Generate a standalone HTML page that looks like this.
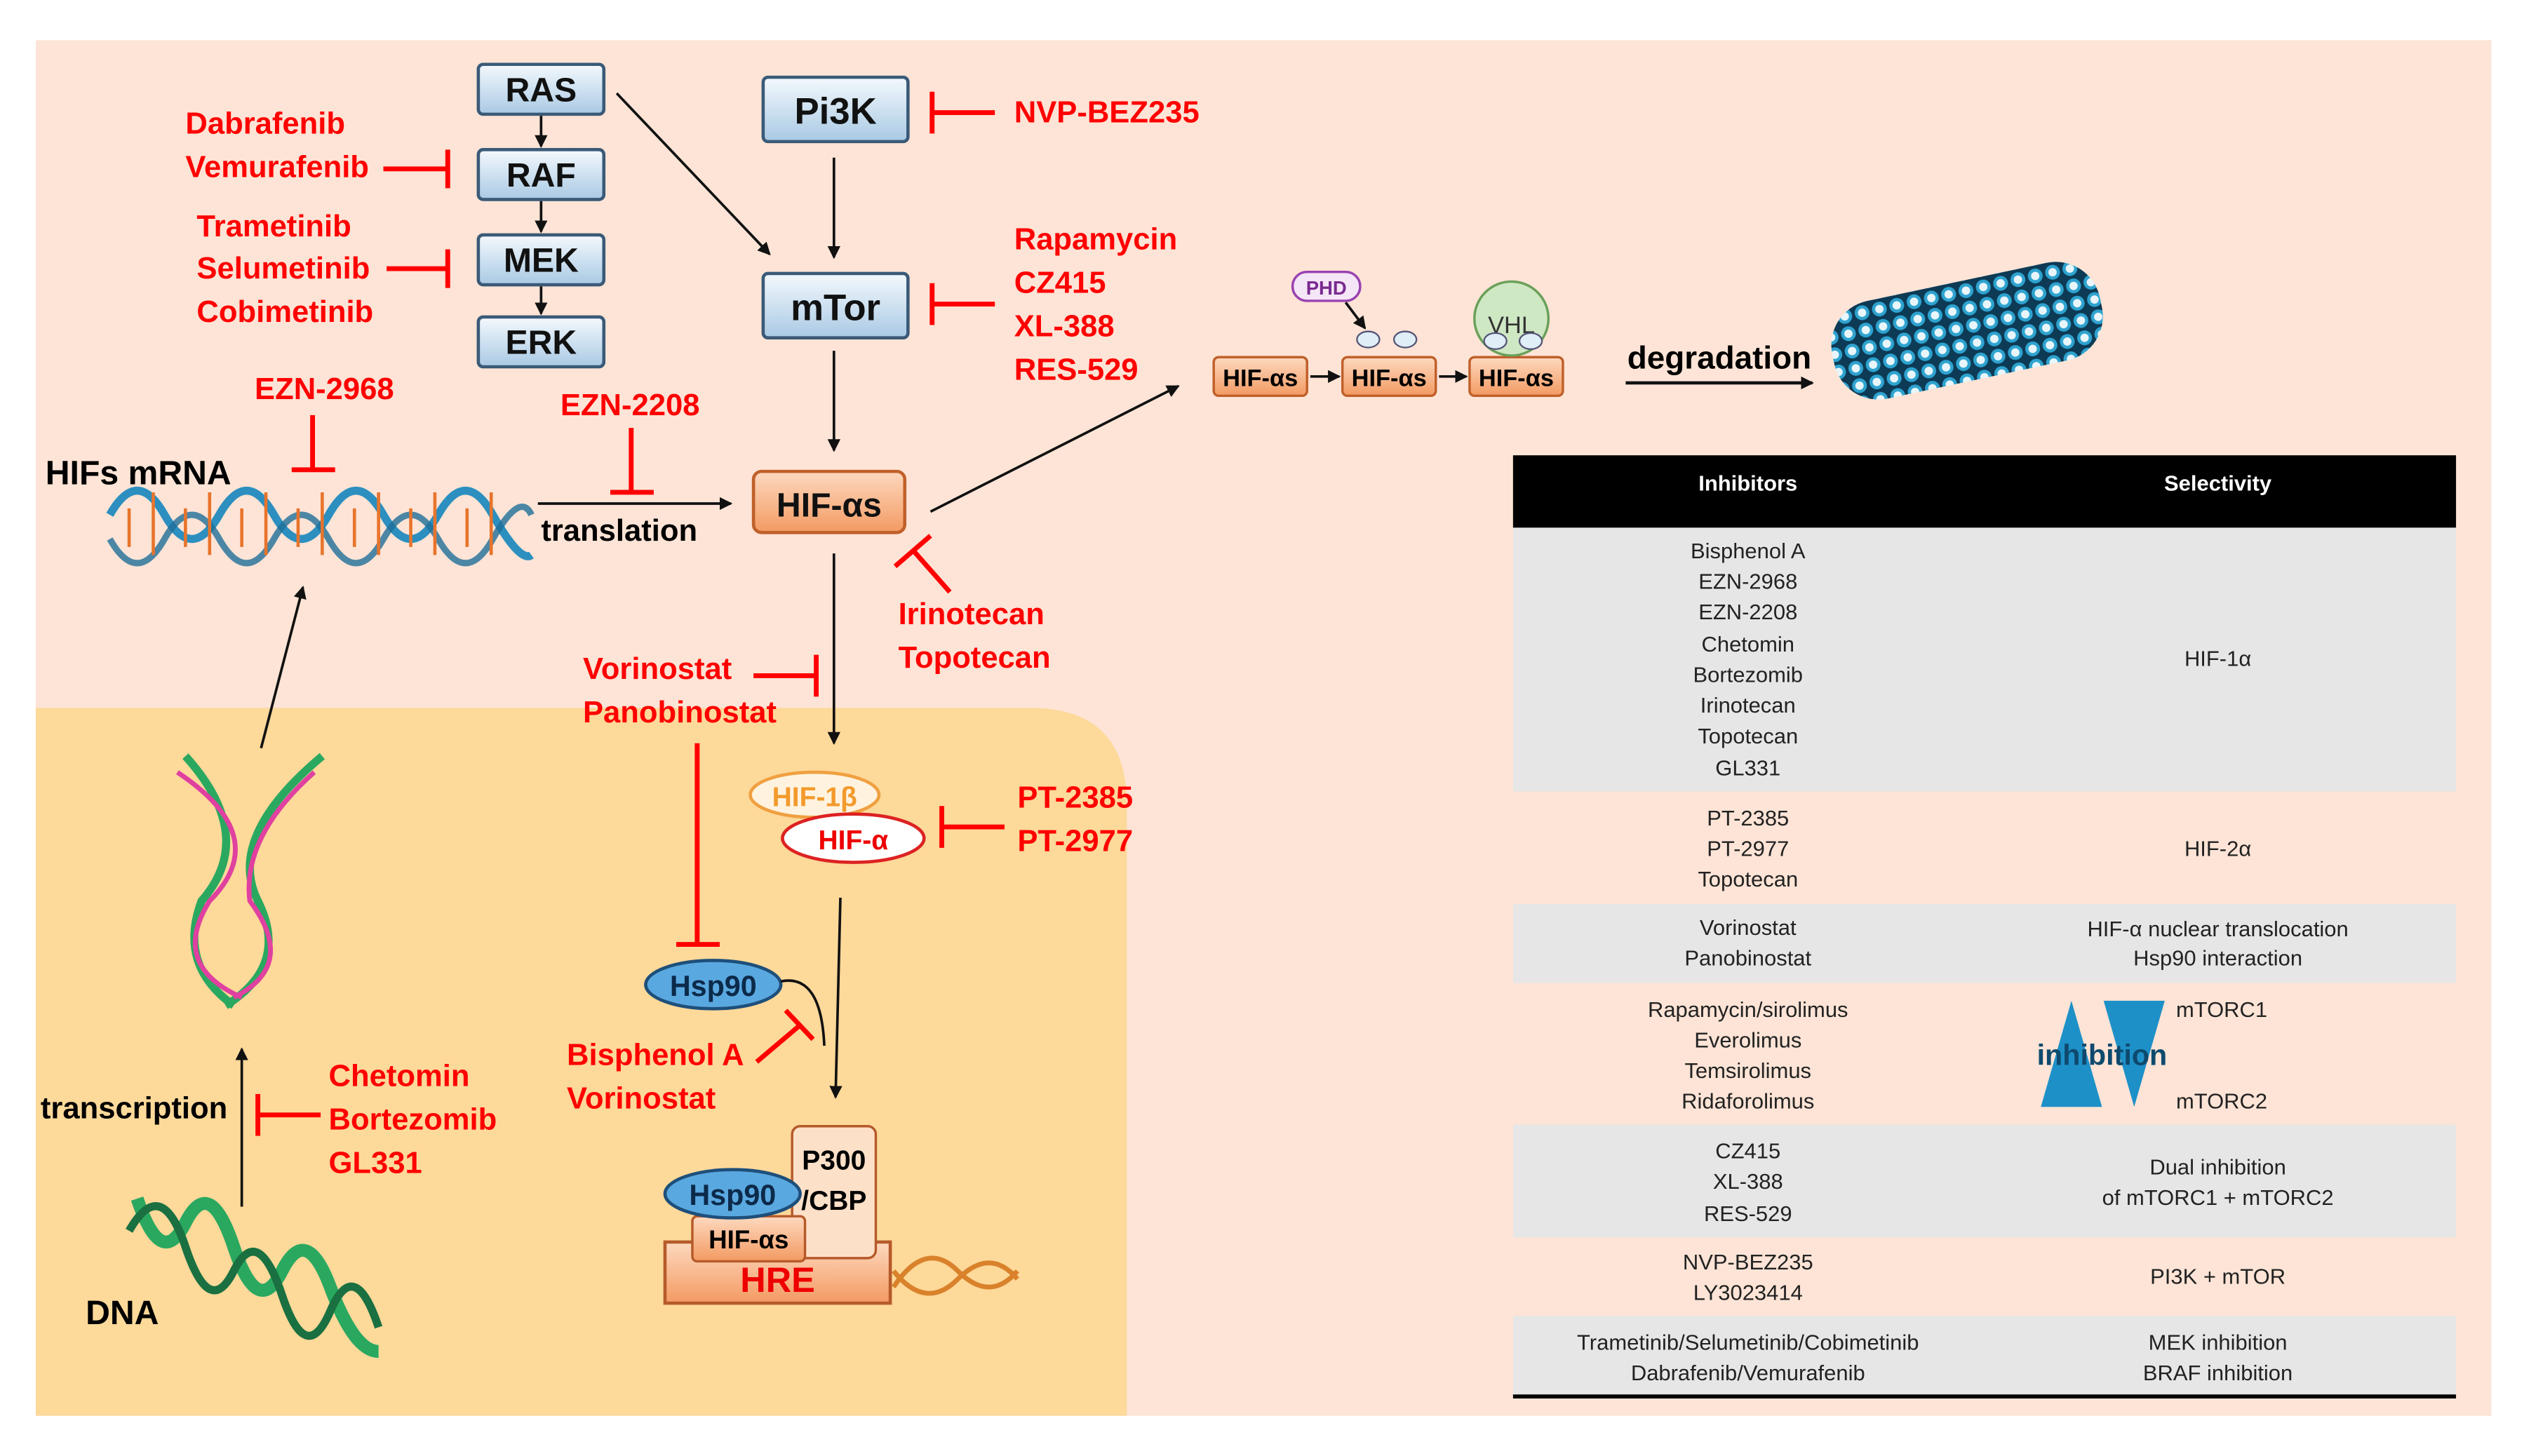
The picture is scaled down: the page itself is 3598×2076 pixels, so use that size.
<!DOCTYPE html>
<html><head><meta charset="utf-8"><style>
html,body{margin:0;padding:0;background:#fff;}
svg{display:block;}
text{font-family:"Liberation Sans",sans-serif;}
.r{fill:#f00;font-weight:bold;font-size:19px;}
.t{font-size:13.5px;fill:#222;text-anchor:middle;}
.bx{fill:url(#bg);stroke:#3a5a78;stroke-width:2;}
.bl{font-weight:bold;font-size:21px;fill:#111;text-anchor:middle;}
.ln{stroke:#111;stroke-width:1.6;fill:none;}
.inh{stroke:#f00;stroke-width:3;fill:none;}
</style></head><body>
<svg width="3598" height="2076" viewBox="0 0 1568 905" xmlns="http://www.w3.org/2000/svg">
<defs>
<linearGradient id="bg" x1="0" y1="0" x2="0" y2="1"><stop offset="0" stop-color="#f4f9fd"/><stop offset="1" stop-color="#a9c9e4"/></linearGradient>
<linearGradient id="og" x1="0" y1="0" x2="0" y2="1"><stop offset="0" stop-color="#fdd9bf"/><stop offset="1" stop-color="#f39a62"/></linearGradient>
<marker id="a" markerWidth="8" markerHeight="8" refX="7" refY="4" orient="auto" markerUnits="userSpaceOnUse"><path d="M0,0 L8,4 L0,8 z" fill="#111"/></marker>
<pattern id="bead" width="11" height="11" patternUnits="userSpaceOnUse"><rect width="11" height="11" fill="#0d3a55"/><circle cx="5.5" cy="5.5" r="4.6" fill="#2ea3cf"/><circle cx="5.5" cy="5.5" r="2.6" fill="#e8f6fb"/></pattern>
</defs>
<rect x="22" y="25" width="1526" height="855" fill="#fde4d6"/>
<path d="M22,440 H640 Q700,440 700,500 V880 H22 Z" fill="#fdd99a"/>

<!-- MAPK boxes -->
<rect class="bx" x="297" y="40" width="78" height="31" rx="3"/><text class="bl" x="336" y="63">RAS</text>
<rect class="bx" x="297" y="93" width="78" height="31" rx="3"/><text class="bl" x="336" y="116">RAF</text>
<rect class="bx" x="297" y="146" width="78" height="31" rx="3"/><text class="bl" x="336" y="169">MEK</text>
<rect class="bx" x="297" y="197" width="78" height="31" rx="3"/><text class="bl" x="336" y="220">ERK</text>
<line class="ln" x1="336" y1="72" x2="336" y2="91" marker-end="url(#a)"/>
<line class="ln" x1="336" y1="125" x2="336" y2="144" marker-end="url(#a)"/>
<line class="ln" x1="336" y1="178" x2="336" y2="195" marker-end="url(#a)"/>
<line class="ln" x1="383" y1="58" x2="478" y2="158" marker-end="url(#a)"/>

<rect class="bx" x="474" y="48" width="90" height="40" rx="3"/><text class="bl" x="519" y="77" style="font-size:23px">Pi3K</text>
<rect class="bx" x="474" y="170" width="90" height="40" rx="3"/><text class="bl" x="519" y="199" style="font-size:23px">mTor</text>
<line class="ln" x1="518" y1="98" x2="518" y2="160" marker-end="url(#a)"/>
<line class="ln" x1="518" y1="218" x2="518" y2="280" marker-end="url(#a)"/>

<rect x="468" y="293" width="94" height="38" rx="5" fill="url(#og)" stroke="#c0602a" stroke-width="2"/>
<text class="bl" x="515" y="321" style="font-size:21px">HIF-αs</text>

<!-- red labels -->
<text class="r" x="115" y="83">Dabrafenib</text><text class="r" x="115" y="110">Vemurafenib</text>
<path class="inh" d="M238,105 H278 M278,93 V117"/>
<text class="r" x="122" y="147">Trametinib</text><text class="r" x="122" y="173">Selumetinib</text><text class="r" x="122" y="200">Cobimetinib</text>
<path class="inh" d="M240,167 H278 M278,155 V179"/>
<text class="r" x="630" y="76">NVP-BEZ235</text>
<path class="inh" d="M579,70 H618 M579,57 V83"/>
<text class="r" x="630" y="155">Rapamycin</text><text class="r" x="630" y="182">CZ415</text><text class="r" x="630" y="209">XL-388</text><text class="r" x="630" y="236">RES-529</text>
<path class="inh" d="M579,189 H618 M579,176 V202"/>
<text class="r" x="158" y="248">EZN-2968</text>
<path class="inh" d="M194,258 V292 M181,292 H208"/>
<text class="r" x="348" y="258">EZN-2208</text>
<path class="inh" d="M392,266 V306 M379,306 H406"/>
<text x="28" y="301" style="font-weight:bold;font-size:21px">HIFs mRNA</text>
<text x="336" y="336" style="font-weight:bold;font-size:19px">translation</text>
<line class="ln" x1="334" y1="313" x2="454" y2="313" marker-end="url(#a)"/>
<!-- mRNA -->
<path d="M68,320 Q85,290 102,320 T136,320 T170,320 T204,320 T238,320 T272,320 T306,320 T330,345" stroke="#2c8fbf" stroke-width="5" fill="none"/>
<path d="M68,335 Q85,365 102,335 T136,335 T170,335 T204,335 T238,335 T272,335 T306,335 T330,320" stroke="#1f6e98" stroke-width="4" fill="none" opacity=".8"/>
<g stroke="#e8742b" stroke-width="2"><path d="M80,316V340 M95,306V345 M115,316V340 M130,306V345 M150,316V340 M165,306V345 M185,316V340 M200,306V345 M220,316V340 M235,306V345 M255,316V340 M270,306V345 M290,316V340 M305,306V345"/></g>

<line class="ln" x1="578" y1="318" x2="732" y2="240" marker-end="url(#a)"/>
<text class="r" x="558" y="388">Irinotecan</text><text class="r" x="558" y="415">Topotecan</text>
<path class="inh" d="M590,368 L568,343 M556,352 L578,333"/>
<line class="ln" x1="518" y1="344" x2="518" y2="462" marker-end="url(#a)"/>
<text class="r" x="362" y="422">Vorinostat</text><text class="r" x="362" y="449">Panobinostat</text>
<path class="inh" d="M468,420 H507 M507,407 V433"/>
<path class="inh" d="M433,462 V587 M420,587 H447"/>

<!-- degradation -->
<rect x="754" y="222" width="58" height="24" rx="3" fill="url(#og)" stroke="#c0602a" stroke-width="1.5"/><text x="783" y="240" style="font-weight:bold;font-size:15px" text-anchor="middle">HIF-αs</text>
<rect x="834" y="222" width="58" height="24" rx="3" fill="url(#og)" stroke="#c0602a" stroke-width="1.5"/><text x="863" y="240" style="font-weight:bold;font-size:15px" text-anchor="middle">HIF-αs</text>
<rect x="913" y="222" width="58" height="24" rx="3" fill="url(#og)" stroke="#c0602a" stroke-width="1.5"/><text x="942" y="240" style="font-weight:bold;font-size:15px" text-anchor="middle">HIF-αs</text>
<line class="ln" x1="814" y1="234" x2="832" y2="234" marker-end="url(#a)"/>
<line class="ln" x1="894" y1="234" x2="911" y2="234" marker-end="url(#a)"/>
<rect x="803" y="169" width="42" height="18" rx="9" fill="#f4e6f7" stroke="#9a42b0" stroke-width="1.5"/><text x="824" y="183" font-size="12" fill="#7a2a90" text-anchor="middle" font-weight="bold">PHD</text>
<line class="ln" x1="836" y1="188" x2="848" y2="204" marker-end="url(#a)"/>
<ellipse cx="850" cy="211" rx="7" ry="5" fill="#dfeef7" stroke="#557"/><ellipse cx="873" cy="211" rx="7" ry="5" fill="#dfeef7" stroke="#557"/>
<circle cx="939" cy="198" r="23" fill="#cfe8c4" stroke="#6aa05a" stroke-width="1.5"/><text x="939" y="207" font-size="15" text-anchor="middle" fill="#333">VHL</text>
<ellipse cx="929" cy="212" rx="7" ry="5" fill="#dfeef7" stroke="#557"/><ellipse cx="951" cy="212" rx="7" ry="5" fill="#dfeef7" stroke="#557"/>
<text x="1011" y="229" style="font-weight:bold;font-size:20px">degradation</text>
<line x1="1010" y1="238" x2="1126" y2="238" stroke="#111" stroke-width="2" marker-end="url(#a)"/>
<g transform="rotate(-12 1220 205)"><rect x="1137" y="175" width="170" height="62" rx="28" fill="url(#bead)"/></g>

<!-- lower pathway -->
<ellipse cx="506" cy="494" rx="40" ry="14" fill="#fff3df" stroke="#f0a040" stroke-width="2"/><text x="506" y="501" font-size="17" font-weight="bold" fill="#f39a2c" text-anchor="middle">HIF-1β</text>
<ellipse cx="530" cy="521" rx="44" ry="15" fill="#fff" stroke="#d22" stroke-width="2"/><text x="530" y="528" font-size="17" font-weight="bold" fill="#e00" text-anchor="middle">HIF-α</text>
<text class="r" x="632" y="502">PT-2385</text><text class="r" x="632" y="529">PT-2977</text>
<path class="inh" d="M585,514 H624 M585,501 V527"/>
<path class="ln" d="M522,558 L519,682" marker-end="url(#a)"/>
<ellipse cx="443" cy="612" rx="42" ry="15" fill="#5aa8e0" stroke="#1e4f7a" stroke-width="2"/><text x="443" y="619" font-size="18" font-weight="bold" fill="#0c2a4a" text-anchor="middle">Hsp90</text>
<path class="ln" d="M485,610 Q510,605 512,650"/>
<text class="r" x="352" y="662">Bisphenol A</text><text class="r" x="352" y="689">Vorinostat</text>
<path class="inh" d="M470,660 L496,638 M488,628 L505,646"/>
<!-- HRE complex -->
<rect x="413" y="772" width="140" height="38" fill="url(#og)" stroke="#b65a2a" stroke-width="2"/><text x="483" y="803" font-size="22" font-weight="bold" fill="#e00" text-anchor="middle">HRE</text>
<rect x="492" y="700" width="52" height="82" rx="5" fill="#fde0c8" stroke="#b65a2a" stroke-width="1.5"/><text x="518" y="727" font-size="17" font-weight="bold" text-anchor="middle">P300</text><text x="518" y="752" font-size="17" font-weight="bold" text-anchor="middle">/CBP</text>
<rect x="430" y="756" width="70" height="28" rx="3" fill="url(#og)" stroke="#b65a2a" stroke-width="1.5"/><text x="465" y="776" font-size="16" font-weight="bold" text-anchor="middle">HIF-αs</text>
<ellipse cx="455" cy="742" rx="42" ry="15" fill="#5aa8e0" stroke="#1e4f7a" stroke-width="2"/><text x="455" y="749" font-size="18" font-weight="bold" fill="#0c2a4a" text-anchor="middle">Hsp90</text>
<path d="M555,800 Q575,770 595,790 T632,790" stroke="#d9822b" stroke-width="3" fill="none"/><path d="M555,790 Q575,815 595,795 T632,795" stroke="#d9822b" stroke-width="3" fill="none"/>

<!-- DNA left -->
<path d="M115,470 Q160,520 125,560 Q110,600 145,625 M200,470 Q140,520 160,560 Q180,600 140,625" stroke="#2aa860" stroke-width="5" fill="none"/>
<path d="M110,480 Q170,520 130,560 Q105,600 150,620 M195,480 Q150,520 155,560 Q185,600 145,620" stroke="#e040a0" stroke-width="3" fill="none"/>
<line class="ln" x1="162" y1="465" x2="188" y2="365" marker-end="url(#a)"/>
<line class="ln" x1="150" y1="750" x2="150" y2="652" marker-end="url(#a)"/>
<text x="25" y="695" style="font-weight:bold;font-size:19px">transcription</text>
<text class="r" x="204" y="675">Chetomin</text><text class="r" x="204" y="702">Bortezomib</text><text class="r" x="204" y="729">GL331</text>
<path class="inh" d="M160,693 H199 M160,680 V706"/>
<path d="M85,745 Q100,790 115,760 T145,775 T175,790 T205,800 T235,840" stroke="#2aa860" stroke-width="8" fill="none"/>
<path d="M80,765 Q100,730 115,775 T145,790 T175,805 T205,815 T235,825" stroke="#1a7040" stroke-width="5" fill="none"/>
<text x="53" y="823" style="font-weight:bold;font-size:21px">DNA</text>

<!-- table -->
<rect x="940" y="283" width="586" height="45" fill="#000"/>
<text x="1086" y="305" font-size="13.5" font-weight="bold" fill="#fff" text-anchor="middle">Inhibitors</text>
<text x="1378" y="305" font-size="13.5" font-weight="bold" fill="#fff" text-anchor="middle">Selectivity</text>
<rect x="940" y="328" width="586" height="164" fill="#e6e6e6"/>
<rect x="940" y="562" width="586" height="49" fill="#e6e6e6"/>
<rect x="940" y="699" width="586" height="70" fill="#e6e6e6"/>
<rect x="940" y="818" width="586" height="50" fill="#e6e6e6"/>
<line x1="940" y1="868" x2="1526" y2="868" stroke="#000" stroke-width="2.5"/>
<g class="t">
<text class="t" x="1086" y="347">Bisphenol A</text><text class="t" x="1086" y="366">EZN-2968</text><text class="t" x="1086" y="385">EZN-2208</text><text class="t" x="1086" y="405">Chetomin</text><text class="t" x="1086" y="424">Bortezomib</text><text class="t" x="1086" y="443">Irinotecan</text><text class="t" x="1086" y="462">Topotecan</text><text class="t" x="1086" y="482">GL331</text>
<text class="t" x="1378" y="414">HIF-1α</text>
<text class="t" x="1086" y="513">PT-2385</text><text class="t" x="1086" y="532">PT-2977</text><text class="t" x="1086" y="551">Topotecan</text>
<text class="t" x="1378" y="532">HIF-2α</text>
<text class="t" x="1086" y="581">Vorinostat</text><text class="t" x="1086" y="600">Panobinostat</text>
<text class="t" x="1378" y="582">HIF-α nuclear translocation</text><text class="t" x="1378" y="600">Hsp90 interaction</text>
<text class="t" x="1086" y="632">Rapamycin/sirolimus</text><text class="t" x="1086" y="651">Everolimus</text><text class="t" x="1086" y="670">Temsirolimus</text><text class="t" x="1086" y="689">Ridaforolimus</text>
<text class="t" x="1086" y="720">CZ415</text><text class="t" x="1086" y="739">XL-388</text><text class="t" x="1086" y="759">RES-529</text>
<text class="t" x="1378" y="730">Dual inhibition</text><text class="t" x="1378" y="749">of mTORC1 + mTORC2</text>
<text class="t" x="1086" y="789">NVP-BEZ235</text><text class="t" x="1086" y="808">LY3023414</text>
<text class="t" x="1378" y="798">PI3K + mTOR</text>
<text class="t" x="1086" y="839">Trametinib/Selumetinib/Cobimetinib</text><text class="t" x="1086" y="858">Dabrafenib/Vemurafenib</text>
<text class="t" x="1378" y="839">MEK inhibition</text><text class="t" x="1378" y="858">BRAF inhibition</text>
</g>
<path d="M1287,622 L1306,688 L1268,688 Z" fill="#1e90c8"/>
<path d="M1307,622 L1345,622 L1326,688 Z" fill="#1e90c8"/>
<text x="1306" y="662" font-size="18" font-weight="bold" fill="#0e4a6e" text-anchor="middle">inhibition</text>
<text x="1352" y="632" font-size="13.5" fill="#222">mTORC1</text>
<text x="1352" y="689" font-size="13.5" fill="#222">mTORC2</text>
</svg>
</body></html>
